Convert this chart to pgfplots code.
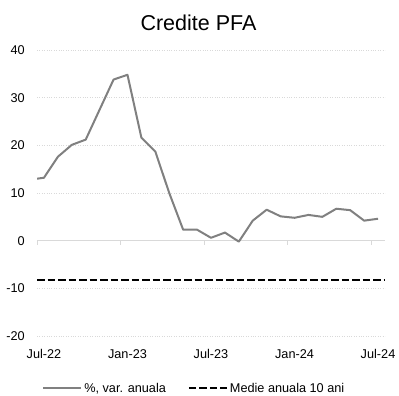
\documentclass[border=0pt]{standalone}
\usepackage{pgfplots}
\pgfplotsset{compat=1.18}
\usepackage{fontspec}
\setmainfont{Liberation Sans}
\definecolor{serGray}{RGB}{128,128,128}
\definecolor{gridGray}{RGB}{217,217,217}
\pgfplotstableread{
x y
0 13.0
0.5 13.2
1.5 17.6
2.5 20.1
3.5 21.2
4.5 27.5
5.5 33.8
6.5 34.8
7.5 21.6
8.5 18.7
9.5 10.0
10.5 2.3
11.5 2.3
12.5 0.6
13.5 1.7
14.5 -0.2
15.5 4.2
16.5 6.5
17.5 5.1
18.5 4.8
19.5 5.4
20.5 5.0
21.5 6.7
22.5 6.4
23.5 4.2
24.5 4.6
}\credite
\begin{document}
\begin{tikzpicture}
% zero line with downward ticks
\begin{axis}[
  at={(37pt,60pt)}, anchor=south west,
  scale only axis, width=348pt, height=286pt,
  xmin=0, xmax=25, ymin=-20, ymax=40,
  axis x line=middle, axis y line=none,
  axis line style={-, draw=gridGray, line width=0.9pt},
  xtick={0,6,12,18,24}, xticklabels={},
  ytick=\empty,
  xtick style={draw=gridGray, line width=0.9pt},
  major tick length=4pt, tick align=outside,
]
\end{axis}
\begin{axis}[
  at={(37pt,60pt)}, anchor=south west,
  scale only axis, width=348pt, height=286pt,
  xmin=0, xmax=25, ymin=-20, ymax=40,
  axis line style={draw=none},
  ytick={-20,-10,10,20,30,40},
  extra y ticks={0},
  extra y tick style={grid=none},
  ymajorgrids,
  grid style={dotted, draw=gridGray, line width=0.7pt},
  xtick={0.5,6.5,12.5,18.5,24.5},
  xticklabels={Jul-22,Jan-23,Jul-23,Jan-24,Jul-24},
  major tick length=0pt,
  /pgf/number format/assume math mode=true,
  tick label style={font=\fontsize{12.7}{14}\selectfont, text=black},
  yticklabel style={anchor=east, inner sep=0pt, xshift=-12pt},
  xticklabel style={anchor=north, inner sep=0pt, yshift=-13.5pt},
  legend columns=2,
  legend style={at={(0.452,-0.183)}, anchor=center, draw=none, fill=none,
    font=\fontsize{12.7}{14}\selectfont, inner sep=1pt,
    /tikz/every even column/.append style={column sep=20pt}},
  legend image code/.code={\draw[#1] (0pt,0pt) -- (38pt,0pt);},
]
\addplot[serGray, line width=2pt, line join=round] table[x=x,y=y] {\credite};
\addlegendentry{\%, var. anuala}
\addplot[black, line width=2pt, dash pattern=on 7.5pt off 3pt] coordinates {(0,-8.2) (25,-8.2)};
\addlegendentry{Medie anuala 10 ani}
\end{axis}
\node[anchor=base] at (198.5pt,365pt) {\fontsize{21.5}{24}\selectfont Credite PFA};
\pgfresetboundingbox
\path (0pt,0pt) rectangle (399pt,396pt);
\end{tikzpicture}
\end{document}
